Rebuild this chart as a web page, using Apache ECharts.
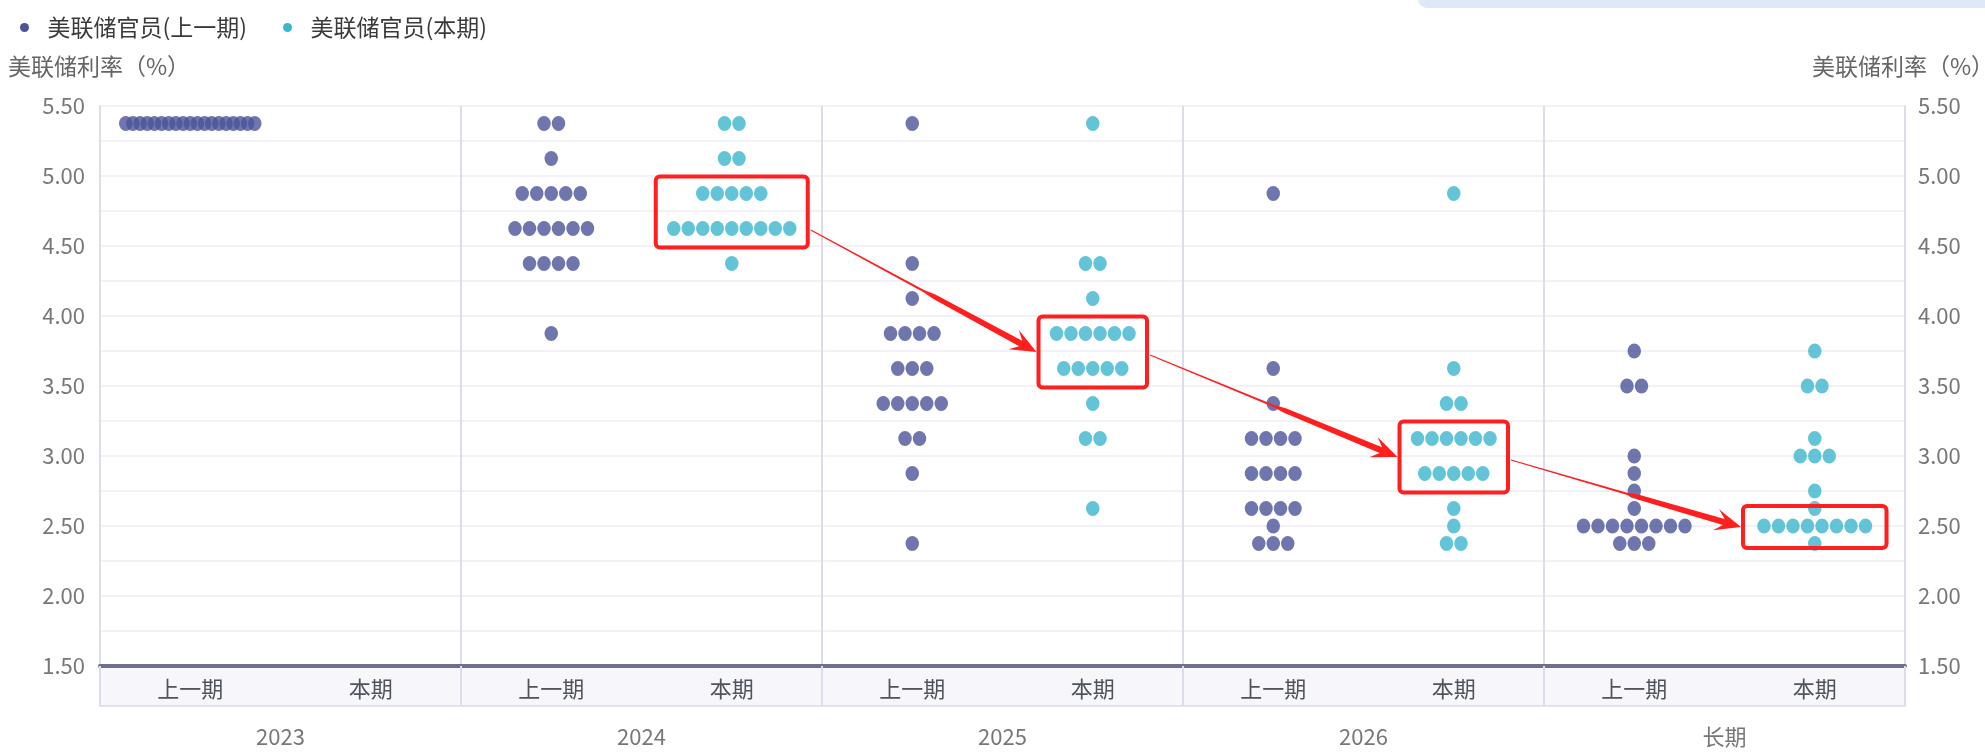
<!DOCTYPE html>
<html>
<head>
<meta charset="utf-8">
<title>美联储点阵图</title>
<script src="https://cdn.jsdelivr.net/npm/echarts@6/dist/echarts.min.js"></script>
<style>
  html, body { margin: 0; padding: 0; background: #fff; }
  #main { width: 1985px; height: 752px; }
</style>
</head>
<body>
<div id="main"></div>
<script>
// 横轴
const years = ['2023', '2024', '2025', '2026', '长期'];
const periods = ['上一期', '本期', '上一期', '本期', '上一期', '本期', '上一期', '本期', '上一期', '本期'];

// 每列点阵: [利率, 官员人数]
const prev2023 = [[5.375, 19]];
const curr2023 = [];
const prev2024 = [[5.375, 2], [5.125, 1], [4.875, 5], [4.625, 6], [4.375, 4], [3.875, 1]];
const curr2024 = [[5.375, 2], [5.125, 2], [4.875, 5], [4.625, 9], [4.375, 1]];
const prev2025 = [[5.375, 1], [4.375, 1], [4.125, 1], [3.875, 4], [3.625, 3], [3.375, 5], [3.125, 2], [2.875, 1], [2.375, 1]];
const curr2025 = [[5.375, 1], [4.375, 2], [4.125, 1], [3.875, 6], [3.625, 5], [3.375, 1], [3.125, 2], [2.625, 1]];
const prev2026 = [[4.875, 1], [3.625, 1], [3.375, 1], [3.125, 4], [2.875, 4], [2.625, 4], [2.5, 1], [2.375, 3]];
const curr2026 = [[4.875, 1], [3.625, 1], [3.375, 2], [3.125, 6], [2.875, 5], [2.625, 1], [2.5, 1], [2.375, 2]];
const prevLong = [[3.75, 1], [3.5, 2], [3.0, 1], [2.875, 1], [2.75, 1], [2.625, 1], [2.5, 8], [2.375, 3]];
const currLong = [[3.75, 1], [3.5, 2], [3.125, 1], [3.0, 3], [2.75, 1], [2.625, 1], [2.5, 8], [2.375, 1]];

const prevCols = [prev2023, prev2024, prev2025, prev2026, prevLong];
const currCols = [curr2023, curr2024, curr2025, curr2026, currLong];

// 红框标注的本期中位数所在行
const boxCols = [3, 5, 7, 9];
const boxRates = [[4.875, 4.625], [3.875, 3.625], [3.125, 2.875], [2.5]];

const DOT_GAP = 14.5;   // 点间距(px)
const MAX_SPAN = 129;   // 一行点最大宽度(px)

function gapFor(n) {
  if (n <= 1) return 0;
  return Math.min(DOT_GAP, MAX_SPAN / (n - 1));
}

function buildDots(cols, shift) {
  let out = [];
  cols.forEach((col, i) => {
    col.forEach(([rate, n]) => {
      let g = gapFor(n);
      for (let j = 0; j < n; j++) {
        out.push({ value: [i * 2 + shift, rate], symbolOffset: [(j - (n - 1) / 2) * g, 0] });
      }
    });
  });
  return out;
}

function boxOf(api, k) {
  let col = boxCols[k];
  let rates = boxRates[k];
  let colData = currCols[(col - 1) / 2];
  let maxN = 1;
  colData.forEach(([r, n]) => { if (rates.indexOf(r) >= 0) maxN = Math.max(maxN, n); });
  let top = api.coord([col, Math.max(...rates)]);
  let bot = api.coord([col, Math.min(...rates)]);
  let padX = rates.length === 1 ? 21 : 18;
  let padY = rates.length === 1 ? 20 : 17;
  let halfW = (maxN - 1) / 2 * gapFor(maxN) + padX;
  return { x: top[0] - halfW, y: top[1] - padY, width: halfW * 2, height: bot[1] - top[1] + padY * 2 + 2 };
}

// 细头粗尾的箭头
function arrowPoints(p0, p1) {
  let dx = p1[0] - p0[0], dy = p1[1] - p0[1];
  let len = Math.sqrt(dx * dx + dy * dy);
  let ux = dx / len, uy = dy / len;
  let nx = -uy, ny = ux;
  let at = (d, w) => [p1[0] - ux * d + nx * w, p1[1] - uy * d + ny * w];
  let mid = len * 0.5;
  return [
    at(len, 0.6), at(mid, 1.0), at(mid - 12, 2.4), at(18, 3.2), at(26, 11),
    [p1[0], p1[1]],
    at(26, -11), at(18, -3.2), at(mid - 12, -2.4), at(mid, -1.0), at(len, -0.6)
  ];
}

const labelFont = 'Noto Sans CJK SC';
const yLabel = v => (Math.round(v * 100) % 50 === 0 ? v.toFixed(2) : '');

let myChart = echarts.init(document.getElementById('main'));
let option = {
  animation: false,
  textStyle: { fontFamily: labelFont },
  graphic: [
    { type: 'rect', left: 1418, top: -12, shape: { width: 620, height: 20, r: 9 }, style: { fill: '#dfe8f8' }, silent: true }
  ],
  legend: {
    left: 15,
    top: 11,
    icon: 'circle',
    itemWidth: 36,
    itemHeight: 9,
    itemGap: 36,
    itemStyle: { opacity: 1 },
    textStyle: { fontSize: 23, color: '#3a3a3a', fontFamily: labelFont },
    data: ['美联储官员(上一期)', '美联储官员(本期)']
  },
  grid: [
    { left: 100, right: 80, top: 106, bottom: 86, outerBoundsMode: 'none', containLabel: false },
    { left: 100, right: 80, top: 666, height: 40, outerBoundsMode: 'none', containLabel: false,
      show: true, backgroundColor: '#f6f6fb', borderColor: '#dcdcec', borderWidth: 1.5 }
  ],
  xAxis: [
    {
      type: 'category', gridIndex: 0, data: periods, position: 'bottom',
      axisLine: { show: true, lineStyle: { color: '#6e6e92', width: 4 } },
      axisTick: { show: false }, axisLabel: { show: false }, splitLine: { show: false }
    },
    {
      type: 'category', gridIndex: 0, data: years, position: 'bottom',
      axisLine: { show: false }, axisTick: { show: false }, axisLabel: { show: false },
      splitLine: { show: true, lineStyle: { color: '#dcdcec', width: 2 } }
    },
    {
      type: 'category', gridIndex: 1, data: periods, position: 'bottom',
      axisLine: { show: false }, axisTick: { show: false },
      axisLabel: { inside: true, margin: 6, fontSize: 22, color: '#4f535c' }
    },
    {
      type: 'category', gridIndex: 1, data: years, position: 'bottom',
      axisLine: { show: false },
      axisTick: { show: true, inside: true, length: 40, lineStyle: { color: '#dcdcec', width: 2 } },
      axisLabel: { margin: 20, fontSize: 22, color: '#777' }
    }
  ],
  yAxis: [
    {
      type: 'value', gridIndex: 0, position: 'left', min: 1.5, max: 5.5, interval: 0.25,
      name: '美联储利率（%）', nameLocation: 'end', nameGap: 40,
      nameTextStyle: { fontSize: 23, color: '#666', align: 'center', verticalAlign: 'middle', padding: [0, 2, 0, 0] },
      axisLine: { show: true, lineStyle: { color: '#dcdcec', width: 2 } },
      axisTick: { show: false },
      axisLabel: { formatter: yLabel, fontSize: 22, color: '#777', margin: 15 },
      splitLine: { show: true, lineStyle: { color: '#ededf5', width: 1.5 } }
    },
    {
      type: 'value', gridIndex: 0, position: 'right', min: 1.5, max: 5.5, interval: 0.25,
      name: '美联储利率（%）', nameLocation: 'end', nameGap: 40,
      nameTextStyle: { fontSize: 23, color: '#666', align: 'center', verticalAlign: 'middle', padding: [0, 4, 0, 0] },
      axisLine: { show: true, lineStyle: { color: '#dcdcec', width: 2 } },
      axisTick: { show: false },
      axisLabel: { formatter: yLabel, fontSize: 22, color: '#777', margin: 13 },
      splitLine: { show: false }
    },
    { type: 'value', gridIndex: 1, show: false }
  ],
  series: [
    {
      name: '美联储官员(上一期)',
      type: 'scatter',
      xAxisIndex: 0, yAxisIndex: 0,
      symbol: 'circle',
      symbolSize: [13.5, 15],
      itemStyle: { color: '#4a5499', opacity: 0.8 },
      data: buildDots(prevCols, 0)
    },
    {
      name: '美联储官员(本期)',
      type: 'scatter',
      xAxisIndex: 0, yAxisIndex: 0,
      symbol: 'circle',
      symbolSize: [13.5, 15],
      itemStyle: { color: '#3cb5ce', opacity: 0.8 },
      data: buildDots(currCols, 1)
    },
    {
      name: '标注',
      type: 'custom',
      xAxisIndex: 0, yAxisIndex: 0,
      z: 5,
      silent: true,
      data: boxCols.map((c, k) => [c, boxRates[k][0]]),
      renderItem: function (params, api) {
        let k = params.dataIndex;
        let b = boxOf(api, k);
        let children = [{
          type: 'rect',
          shape: { x: b.x, y: b.y, width: b.width, height: b.height, r: 4 },
          style: { fill: 'none', stroke: '#ff1f1f', lineWidth: 4 }
        }];
        if (k > 0) {
          let a = boxOf(api, k - 1);
          let p0 = [a.x + a.width + 3, a.y + a.height / 2 + (k === 1 ? 18 : 3)];
          let p1 = [b.x - 2, b.y + b.height / 2];
          children.push({
            type: 'polygon',
            shape: { points: arrowPoints(p0, p1) },
            style: { fill: '#ff1f1f' }
          });
        }
        return { type: 'group', children: children };
      }
    }
  ]
};
myChart.setOption(option);
</script>
</body>
</html>
